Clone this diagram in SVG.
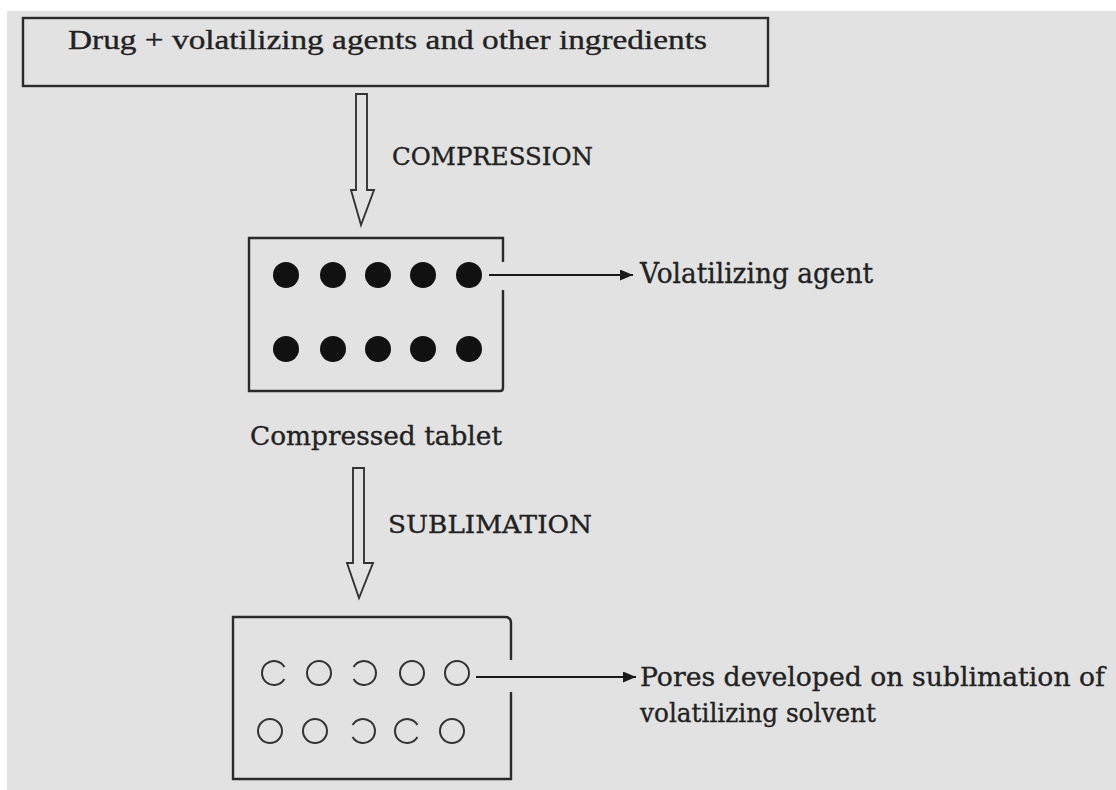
<svg xmlns="http://www.w3.org/2000/svg" width="1116" height="790" viewBox="0 0 1116 790">
<defs>
<marker id="ah" viewBox="0 0 10 10" refX="10" refY="5" markerWidth="13" markerHeight="11" markerUnits="userSpaceOnUse" orient="auto" preserveAspectRatio="none"><path d="M0,0 L10,5 L0,10 Z" fill="#1a1a1a"/></marker>
<style>
.box{fill:none;stroke:#2a2a2a;stroke-width:2.4}
.t{font-family:"DejaVu Serif","Liberation Serif",serif;fill:#222;stroke:#222;stroke-width:0.35}
.ts{font-family:"Liberation Serif","Times New Roman",serif;fill:#222;stroke:#222;stroke-width:0.35}
.dot{fill:#111}
.pore{fill:none;stroke:#333;stroke-width:2}
.hollow{fill:none;stroke:#333;stroke-width:1.9;stroke-linejoin:miter}
.conn{stroke:#1a1a1a;stroke-width:2;fill:none}
</style>
</defs>
<rect x="0" y="0" width="1116" height="790" fill="#ffffff"/>
<rect x="7" y="11" width="1109" height="779" fill="#e2e2e2"/>

<g id="node-ingredients">
<rect class="box" x="23" y="18" width="745" height="68"/>
<text class="ts" x="68" y="49" font-size="27" textLength="639" lengthAdjust="spacingAndGlyphs">Drug + volatilizing agents and other ingredients</text>
</g>

<g id="node-compressed-tablet">
<path class="box" d="M503,262 V238 H249 V391 H500 Q503,391 503,388 V290"/>
<g>
<circle class="dot" cx="286" cy="275" r="13"/>
<circle class="dot" cx="333" cy="275" r="13"/>
<circle class="dot" cx="378" cy="275" r="13"/>
<circle class="dot" cx="423" cy="275" r="13"/>
<circle class="dot" cx="469" cy="275" r="13"/>
<circle class="dot" cx="286" cy="349" r="13"/>
<circle class="dot" cx="333" cy="349" r="13"/>
<circle class="dot" cx="378" cy="349" r="13"/>
<circle class="dot" cx="423" cy="349" r="13"/>
<circle class="dot" cx="469" cy="349" r="13"/>
</g>
<text class="t" x="250" y="445" font-size="26" textLength="252" lengthAdjust="spacingAndGlyphs">Compressed tablet</text>
</g>

<g id="node-volatilizing-agent">
<text class="t" x="640" y="283" font-size="27" textLength="233" lengthAdjust="spacingAndGlyphs">Volatilizing agent</text>
</g>

<g id="node-porous-tablet">
<path class="box" d="M511,660 V623 Q511,617 505,617 H233 V779 H511 V692"/>
<g>
<path class="pore" d="M284.4,667 A12,12 0 1 0 284.4,679"/>
<circle class="pore" cx="319" cy="673" r="12"/>
<path class="pore" d="M353.6,667 A12,12 0 1 1 353.6,679"/>
<circle class="pore" cx="412" cy="673" r="12"/>
<circle class="pore" cx="457" cy="673" r="12"/>
<circle class="pore" cx="270" cy="731" r="12"/>
<circle class="pore" cx="315" cy="731" r="12"/>
<path class="pore" d="M352.6,725 A12,12 0 1 1 352.6,737"/>
<path class="pore" d="M417.4,725 A12,12 0 1 0 417.4,737"/>
<circle class="pore" cx="452" cy="731" r="12"/>
</g>
</g>

<g id="node-pores-label">
<text class="t" x="640" y="686" font-size="26" textLength="465" lengthAdjust="spacingAndGlyphs">Pores developed on sublimation of</text>
<text class="t" x="640" y="722" font-size="26" textLength="236" lengthAdjust="spacingAndGlyphs">volatilizing solvent</text>
</g>

<g id="connectors">
<path class="hollow" d="M356,94 H367 V190 H374 L361,225 L351,190 H356 Z"/>
<text class="t" x="392" y="165" font-size="24" textLength="201" lengthAdjust="spacingAndGlyphs">COMPRESSION</text>
<path class="hollow" d="M353,468 H364 V563 H373 L359,598 L347,563 H353 Z"/>
<text class="t" x="388" y="533" font-size="24" textLength="204" lengthAdjust="spacingAndGlyphs">SUBLIMATION</text>
<line class="conn" x1="489" y1="275" x2="633" y2="275" marker-end="url(#ah)"/>
<line class="conn" x1="476" y1="677" x2="636" y2="677" marker-end="url(#ah)"/>
</g>
</svg>
